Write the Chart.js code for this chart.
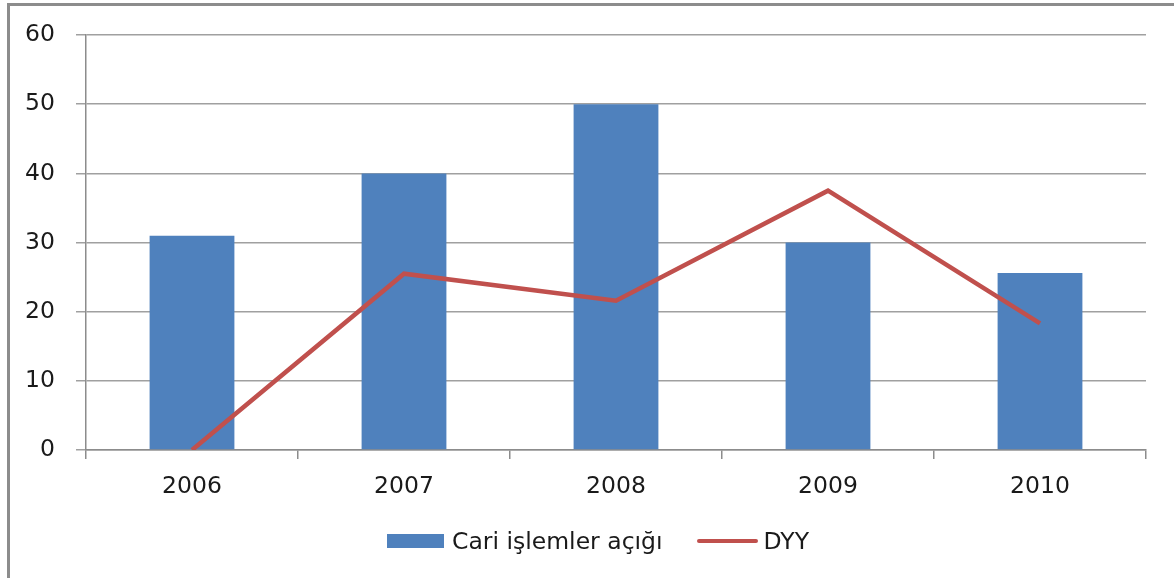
<!DOCTYPE html>
<html>
<head>
<meta charset="utf-8">
<script src="https://cdn.jsdelivr.net/npm/chart.js@4/dist/chart.umd.min.js"></script>
<style>
  html, body { margin: 0; padding: 0; background: #fff; }
  #wrap { position: relative; width: 1174px; height: 578px; overflow: hidden; }
  #frame { position: absolute; left: 7px; top: 3px; width: 1200px; height: 620px; border: 3px solid #8c8c8c; box-sizing: border-box; }
  canvas { position: absolute; left: 0; top: 0; }
  #legend { position: absolute; top: 527px; left: 387px; font-family: "DejaVu Sans", sans-serif; font-size: 23.5px; color: #1a1a1a; display: flex; align-items: center; }
  .sw-bar { display: inline-block; width: 57px; height: 14px; background: #4F81BD; margin-right: 8px; }
  .sw-line { display: inline-block; width: 61px; height: 4px; background: #C0504D; border-radius: 2px; margin-left: 34px; margin-right: 6px; }
</style>
</head>
<body>
<div id="wrap">
  <div id="frame"></div>
  <canvas id="c" width="1174" height="578"></canvas>
  <div id="legend"></div>
</div>
<script>
const categories = ["2006", "2007", "2008", "2009", "2010"];
const cariIslemlerAcigi = [31, 40, 50, 30, 25.6];
const dyy = [0, 25.5, 21.6, 37.5, 18.3];
const seriesNames = ["Cari işlemler açığı", "DYY"];
const yTicks = [0, 10, 20, 30, 40, 50, 60];

const legend = document.getElementById('legend');
legend.innerHTML = '<span class="sw-bar"></span><span>' + seriesNames[0] + '</span>' +
                   '<span class="sw-line"></span><span>' + seriesNames[1] + '</span>';

const font = { family: "DejaVu Sans", size: 23.5 };
new Chart(document.getElementById('c'), {
  data: {
    labels: categories,
    datasets: [
      { type: 'line', label: seriesNames[1], data: dyy, borderColor: '#C0504D', backgroundColor: '#C0504D',
        borderWidth: 4.5, pointRadius: 0, tension: 0, order: 0 },
      { type: 'bar', label: seriesNames[0], data: cariIslemlerAcigi, backgroundColor: '#4F81BD',
        barPercentage: 0.4, categoryPercentage: 1, order: 1 }
    ]
  },
  options: {
    responsive: false,
    animation: false,
    layout: { padding: { top: 34, right: 28, left: 0, bottom: 0 } },
    plugins: { legend: { display: false }, tooltip: { enabled: false } },
    scales: {
      x: {
        offset: true,
        grid: { display: true, drawOnChartArea: false, offset: true, tickLength: 9, color: '#8c8c8c', lineWidth: 1.5 },
        border: { display: true, color: '#8c8c8c', width: 1.5 },
        ticks: { font: font, color: '#1a1a1a', padding: 14 },
        afterFit: s => { s.height = 128; }
      },
      y: {
        min: 0, max: 60,
        afterBuildTicks: s => { s.ticks = yTicks.map(v => ({ value: v })); },
        grid: { color: '#a0a0a0', lineWidth: 1.5, tickLength: 10 },
        border: { display: true, color: '#8c8c8c', width: 1.5 },
        ticks: { font: font, color: '#1a1a1a', padding: 21 },
        afterFit: s => { s.width = 86; }
      }
    }
  }
});
</script>
</body>
</html>
